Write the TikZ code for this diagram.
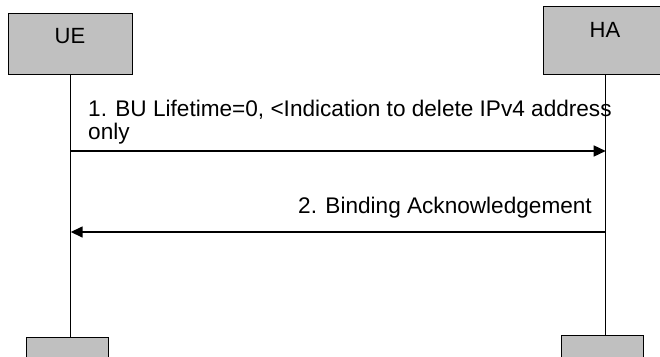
\documentclass[tikz,border=0pt]{standalone}
\usepackage{fontspec}
\setmainfont{Liberation Sans}
\usetikzlibrary{arrows.meta}
\definecolor{boxgray}{HTML}{C0C0C0}
\begin{document}
\begin{tikzpicture}[x=1pt,y=-1pt,
  entity/.style={draw=black, line width=1.4pt, fill=boxgray, inner sep=0pt, anchor=north west},
  lbl/.style={font=\fontsize{22}{26}\selectfont, inner sep=0pt, anchor=base},
  msg/.style={font=\fontsize{22.6}{26}\selectfont, inner sep=0pt},
  life/.style={line width=1pt},
  arr/.style={line width=1.5pt, -{Triangle[length=12pt,width=11pt]}}]
\useasboundingbox (0,0) rectangle (660,356);
\clip (0,0) rectangle (660,356);
% entities
\node[entity, minimum width=124pt, minimum height=61pt] (ue) at (8,13) {};
\node[entity, minimum width=124pt, minimum height=68pt] (ha) at (543,6) {};
\node[lbl] (uelbl) at (70,43) {UE};
\node[lbl] (halbl) at (605,37) {HA};
% end boxes
\node[entity, minimum width=82pt, minimum height=30pt] (ueend) at (26,337) {};
\node[entity, minimum width=82pt, minimum height=30pt] (haend) at (561,335) {};
% lifelines
\draw[life] (ue.south) -- (ue.south |- ueend.north);
\draw[life] (ha.south) -- (ha.south |- haend.north);
% message anchors on lifelines
\coordinate (m1a) at (ue.south |- 0,151);
\coordinate (m1b) at (ha.south |- 0,151);
\coordinate (m2a) at (ha.south |- 0,232);
\coordinate (m2b) at (ue.south |- 0,232);
% messages
\node[msg, anchor=base west] (t1a) at (88,116.5) {1. BU Lifetime=0, <Indication to delete IPv4 address};
\node[msg, anchor=base west] (t1b) at (88,139.5) {only};
\draw[arr] (m1a) -- (m1b);
\node[msg, anchor=base east] (t2) at (592,213) {2. Binding Acknowledgement};
\draw[arr] (m2a) -- (m2b);
\end{tikzpicture}
\end{document}
